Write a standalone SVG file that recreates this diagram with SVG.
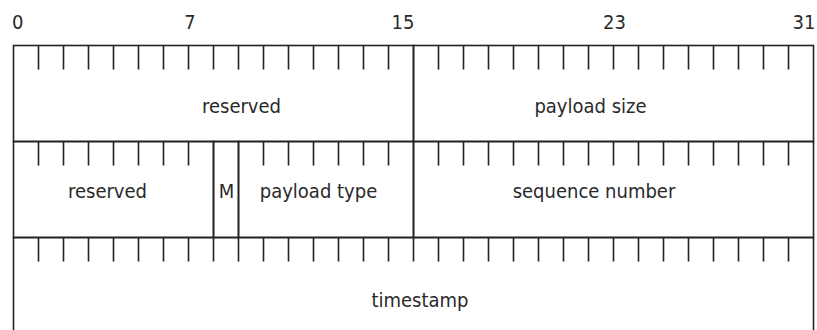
<svg xmlns="http://www.w3.org/2000/svg" width="817" height="330" viewBox="0 0 817 330">
<style>
.f{fill:none;stroke:#222;stroke-width:1.6}
.t{stroke:#222;stroke-width:1.6;fill:none}
text{font-family:"DejaVu Sans Condensed","DejaVu Sans",sans-serif;font-stretch:condensed;font-size:20px;fill:#2a2a2a}
.c{text-anchor:middle}
</style>
<rect width="817" height="330" fill="#fff"/>
<g id="scale">
<text x="12" y="29">0</text>
<text class="c" x="190" y="29">7</text>
<text class="c" x="403" y="29">15</text>
<text class="c" x="614.5" y="29">23</text>
<text class="c" x="804" y="29">31</text>
</g>
<g id="reserved1"><rect class="f" x="13.5" y="45.5" width="400" height="96"/><text class="c" x="241.5" y="113">reserved</text></g>
<g id="payload_size"><rect class="f" x="413.5" y="45.5" width="400" height="96"/><text class="c" x="590.5" y="113">payload size</text></g>
<g id="reserved2"><rect class="f" x="13.5" y="141.5" width="200" height="96"/><text class="c" x="107.5" y="198">reserved</text></g>
<g id="marker"><rect class="f" x="213.5" y="141.5" width="25" height="96"/><text class="c" x="226.5" y="198">M</text></g>
<g id="payload_type"><rect class="f" x="238.5" y="141.5" width="175" height="96"/><text class="c" x="318.5" y="198">payload type</text></g>
<g id="sequence_number"><rect class="f" x="413.5" y="141.5" width="400" height="96"/><text class="c" x="594" y="198">sequence number</text></g>
<g id="timestamp"><rect class="f" x="13.5" y="237.5" width="800" height="96"/><text class="c" x="420" y="307">timestamp</text></g>
<g id="connectors">
<path class="t" d="M38.5 45.5v24M63.5 45.5v24M88.5 45.5v24M113.5 45.5v24M138.5 45.5v24M163.5 45.5v24M188.5 45.5v24M213.5 45.5v24M238.5 45.5v24M263.5 45.5v24M288.5 45.5v24M313.5 45.5v24M338.5 45.5v24M363.5 45.5v24M388.5 45.5v24M438.5 45.5v24M463.5 45.5v24M488.5 45.5v24M513.5 45.5v24M538.5 45.5v24M563.5 45.5v24M588.5 45.5v24M613.5 45.5v24M638.5 45.5v24M663.5 45.5v24M688.5 45.5v24M713.5 45.5v24M738.5 45.5v24M763.5 45.5v24M788.5 45.5v24"/>
<path class="t" d="M38.5 141.5v24M63.5 141.5v24M88.5 141.5v24M113.5 141.5v24M138.5 141.5v24M163.5 141.5v24M188.5 141.5v24M263.5 141.5v24M288.5 141.5v24M313.5 141.5v24M338.5 141.5v24M363.5 141.5v24M388.5 141.5v24M438.5 141.5v24M463.5 141.5v24M488.5 141.5v24M513.5 141.5v24M538.5 141.5v24M563.5 141.5v24M588.5 141.5v24M613.5 141.5v24M638.5 141.5v24M663.5 141.5v24M688.5 141.5v24M713.5 141.5v24M738.5 141.5v24M763.5 141.5v24M788.5 141.5v24"/>
<path class="t" d="M38.5 237.5v24M63.5 237.5v24M88.5 237.5v24M113.5 237.5v24M138.5 237.5v24M163.5 237.5v24M188.5 237.5v24M213.5 237.5v24M238.5 237.5v24M263.5 237.5v24M288.5 237.5v24M313.5 237.5v24M338.5 237.5v24M363.5 237.5v24M388.5 237.5v24M413.5 237.5v24M438.5 237.5v24M463.5 237.5v24M488.5 237.5v24M513.5 237.5v24M538.5 237.5v24M563.5 237.5v24M588.5 237.5v24M613.5 237.5v24M638.5 237.5v24M663.5 237.5v24M688.5 237.5v24M713.5 237.5v24M738.5 237.5v24M763.5 237.5v24M788.5 237.5v24"/>
</g>
</svg>
